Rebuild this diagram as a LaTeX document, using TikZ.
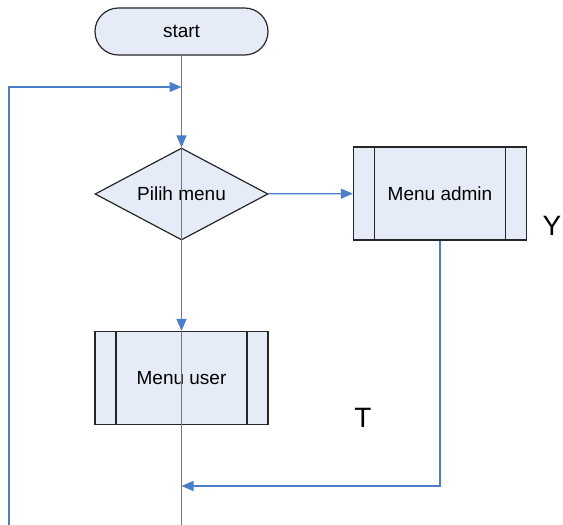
\documentclass[tikz,border=0pt]{standalone}
\usepackage{fontspec}
\setmainfont{Liberation Sans}
\usetikzlibrary{shapes.geometric, arrows.meta, positioning, calc}
\definecolor{boxfill}{HTML}{E6ECF7}
\definecolor{boxline}{HTML}{262626}
\definecolor{flowline}{HTML}{4A7EC8}
\tikzset{
  terminal/.style={draw=boxline, fill=boxfill, line width=0.6pt, minimum width=86.5pt, minimum height=23.5pt, rounded corners=11.7pt, inner sep=0pt},
  decision/.style={draw=boxline, fill=boxfill, line width=0.6pt, diamond, aspect=2, minimum width=86.5pt, minimum height=46pt, inner sep=0pt},
  subproc/.style={draw=boxline, fill=boxfill, line width=0.6pt, minimum width=86.5pt, minimum height=46.5pt, inner sep=0pt,
    path picture={
      \draw[boxline, line width=0.6pt] ([xshift=10.5pt]path picture bounding box.north west) -- ([xshift=10.5pt]path picture bounding box.south west);
      \draw[boxline, line width=0.6pt] ([xshift=-10.5pt]path picture bounding box.north east) -- ([xshift=-10.5pt]path picture bounding box.south east);
    }},
  flow/.style={draw=flowline, line width=0.6pt},
  flowarrow/.style={flow, -{Triangle[length=6pt, width=5pt]}},
  branch/.style={font=\fontsize{14}{16}\selectfont}
}
\begin{document}
\begin{tikzpicture}[x=0.5pt, y=-0.5pt, font=\fontsize{9.5}{11}\selectfont]
  \useasboundingbox (0,0) rectangle (563,525);
  % Shapes
  \node[terminal] (start) at (181.5,31.5) {start};
  \node[decision] (pilih) at (181.5,194) {Pilih menu};
  \node[subproc] (admin) at (440,193.5) {Menu admin};
  \node[subproc] (user) at (181.5,378) {Menu user};
  % Join points
  \coordinate (loopB) at (9,525);
  \coordinate (loopJ) at (181.5,87);
  \coordinate (retJ) at (181.5,486);
  \coordinate (endB) at (181.5,525);
  % Connectors
  \draw[flowarrow] (start) -- (pilih);
  \draw[flowarrow] (loopB) |- (loopJ);
  \draw[flowarrow] (pilih) -- (admin);
  \draw[flowarrow] (pilih) -- (user);
  \draw[flow] (pilih.north) -- (pilih.south);
  \draw[flow] (user.north) -- (user.south);
  \draw[flow] (user) -- (endB);
  \draw[flowarrow] (admin.south) |- (retJ);
  % Branch labels
  \node[branch] (ya) at (552,226) {Y};
  \node[branch] (tidak) at (363,418) {T};
\end{tikzpicture}
\end{document}
